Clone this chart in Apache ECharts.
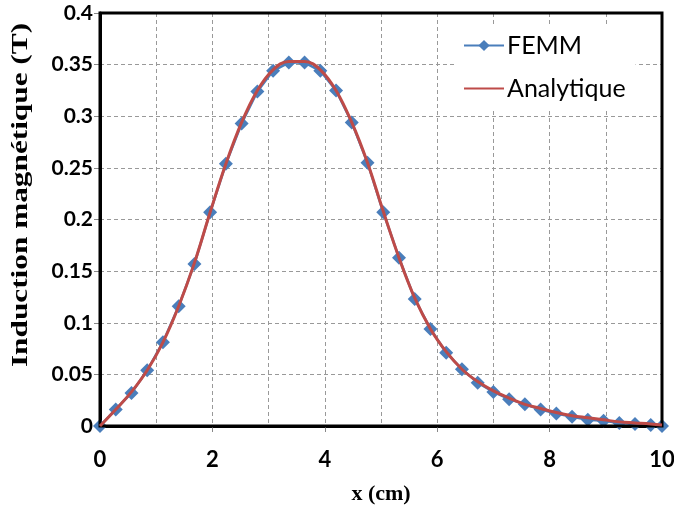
<!DOCTYPE html>
<html><head><meta charset="utf-8">
<script src="https://cdn.jsdelivr.net/npm/echarts@6/dist/echarts.min.js"></script>
<style>html,body{margin:0;padding:0;background:#fff}#c{width:674px;height:509px}</style>
</head><body><div id="c"></div>
<script>
const xValues = [0,0.28,0.56,0.84,1.12,1.4,1.68,1.96,2.24,2.52,2.8,3.08,3.36,3.64,3.92,4.2,4.48,4.76,5.04,5.32,5.6,5.88,6.16,6.44,6.72,7,7.28,7.56,7.84,8.12,8.4,8.68,8.96,9.24,9.52,9.8,10];
const femm = [0,0.016,0.032,0.054,0.081,0.116,0.157,0.207,0.254,0.293,0.324,0.344,0.352,0.352,0.344,0.325,0.294,0.255,0.207,0.163,0.123,0.094,0.071,0.055,0.042,0.033,0.026,0.021,0.016,0.012,0.009,0.006,0.005,0.003,0.002,0.001,0];
const analytique = [0,0.016,0.033,0.054,0.081,0.116,0.158,0.207,0.254,0.294,0.325,0.345,0.353,0.353,0.345,0.325,0.294,0.255,0.208,0.163,0.124,0.094,0.072,0.055,0.043,0.034,0.027,0.021,0.017,0.013,0.010,0.008,0.006,0.004,0.003,0.002,0.001];
const yTicks = [0,0.05,0.1,0.15,0.2,0.25,0.3,0.35,0.4];
const xTicks = [0,2,4,6,8,10];
const seriesNames = ['FEMM','Analytique'];
const xTitle = 'x (cm)';
const yTitle = 'Induction magnétique (T)';

const chart = echarts.init(document.getElementById('c'), null, {renderer:'canvas'});
const pair = (xs, ys) => xs.map((x, i) => [x, ys[i]]);
chart.setOption({
  animation: false,
  backgroundColor: '#fff',
  grid: {left: 100, right: 12, top: 13, bottom: 83, show: true, borderColor: '#000', borderWidth: 3, z: 3,
         containLabel: false, outerBoundsMode: 'none'},
  graphic: [{
    type: 'text', x: 21, y: 195, rotation: Math.PI / 2, scaleX: 1.36, z: 10,
    style: {text: yTitle, font: 'bold 23px "Liberation Serif"', fill: '#000',
            align: 'center', verticalAlign: 'middle'}
  }],
  legend: {
    orient: 'vertical', left: 455, top: 25,
    padding: [8, 10, 8, 8],
    backgroundColor: '#fff',
    itemWidth: 40, itemHeight: 14, itemGap: 18,
    textStyle: {fontFamily: 'Lato', fontSize: 25, color: '#000', padding: [0,0,0,-2]},
    data: [seriesNames[0], {name: seriesNames[1], itemStyle: {opacity: 0}}]
  },
  xAxis: {
    type: 'value', min: xTicks[0], max: xTicks[xTicks.length-1], interval: 2,
    name: xTitle, nameLocation: 'middle', nameGap: 57,
    nameTextStyle: {fontFamily: 'Liberation Serif', fontWeight: 'bold', fontSize: 22, color: '#000'},
    axisLine: {show: true, lineStyle: {color: '#000', width: 3}},
    axisTick: {show: true, inside: false, length: 6, lineStyle: {color: '#888', width: 1}},
    minorTick: {show: false, splitNumber: 2},
    axisLabel: {fontFamily: 'Lato', fontWeight: 'bold', fontSize: 22, color: '#000', margin: 23},
    splitLine: {show: true, lineStyle: {color: '#999', type: [4, 3], width: 1}},
    minorSplitLine: {show: true, lineStyle: {color: '#999', type: [4, 3], width: 1}}
  },
  yAxis: {
    type: 'value', min: yTicks[0], max: yTicks[yTicks.length-1], interval: 0.05,
    axisLine: {show: true, lineStyle: {color: '#000', width: 3}},
    axisTick: {show: true, inside: false, length: 6, lineStyle: {color: '#888', width: 1}},
    axisLabel: {fontFamily: 'Lato', fontWeight: 'bold', fontSize: 21, color: '#000', margin: 7,
      formatter: v => String(Math.round(v*100)/100)},
    splitLine: {show: true, lineStyle: {color: '#999', type: [4, 3], width: 1}}
  },
  series: [
    {
      name: seriesNames[0], type: 'line', data: pair(xValues, femm),
      symbol: 'diamond', symbolSize: 14, showSymbol: true,
      itemStyle: {color: '#4A7EBB'},
      lineStyle: {color: '#4A7EBB', width: 2.5}, z: 2
    },
    {
      name: seriesNames[1], type: 'line', data: pair(xValues, analytique),
      smooth: 0.4, symbol: 'none', showSymbol: false,
      itemStyle: {color: '#BE4B48'},
      lineStyle: {color: '#BE4B48', width: 3}, z: 4
    }
  ]
});
</script></body></html>
